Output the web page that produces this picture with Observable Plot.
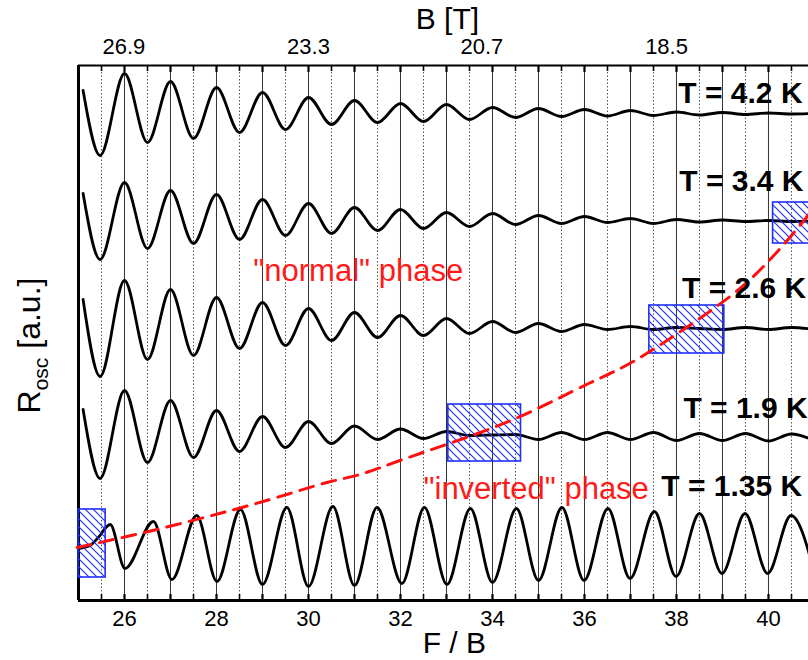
<!DOCTYPE html>
<html><head><meta charset="utf-8">
<script src="https://cdn.jsdelivr.net/npm/d3@7"></script>
<script src="https://cdn.jsdelivr.net/npm/@observablehq/plot@0.6"></script>
<style>body{margin:0;background:#fff;} svg{display:block}</style>
</head><body><div id="chart"></div>
<script>
// ---- data (x = F/B, R = oscillating resistance, arbitrary units) ----
const F = 699; // frequency used for top B axis
const xTickLabels = [26, 28, 30, 32, 34, 36, 38, 40];
const bTickLabels = [26.9, 23.3, 20.7, 18.5];

const x_T42 = [25.1,25.47,26,26.5,27,27.5,28,28.5,29,29.5,30,30.5,31,31.5,32,32.5,33,33.5,34,34.5,35,35.5,36,36.5,37,37.5,38,38.5,39,39.5,40,40.5,41];
const r_T42 = [510,445,527,458,519,462,513,468,508,471,503,476,500,478,497,479,496,481,493,483,492,484,491,484.5,490,485,488.5,485.5,488,486,487.5,486.5,487];

const x_T34 = [25.1,25.47,26,26.5,27,27.5,28,28.5,29,29.5,30,30.5,31,31.5,32,32.5,33,33.5,34,34.5,35,35.5,36,36.5,37,37.5,38,38.5,39,39.5,40,40.5,41];
const r_T34 = [407,341,418,352,410,357,406,361,401,365,397,367,393,370,391,372,388,374,387,376,385,377,384,378,382,377,381,378.5,380.5,379,380,379,379.5];

const x_T26 = [25.1,25.47,26,26.5,27,27.5,28,28.5,29,29.5,30,30.5,31,31.5,32,32.5,33,33.5,34,34.5,35,35.5,36,36.5,37,37.5,38,38.5,39,39.5,40,40.5,41];
const r_T26 = [301,224,320,241,311,245,303,252,298,255,292,260,288,263,285,265,282,267,279,268,277,269,276,271,274,271,273,272,271,273,271,273,271];

const x_T19 = [25.1,25.47,26,26.5,27,27.5,28,28.5,29,29.5,30,30.5,31,31.5,32,32.5,33,33.5,34,34.5,35,35.5,36,36.5,37,37.5,38,38.5,39,39.5,40,40.5,41];
const r_T19 = [191,122,210,138,200,143,190,149,184,153,179,157,174.5,161,171.5,162,169,165,165.5,166,161,168,161,168,161,168,160,167,160,167,159.5,166.5,160];

const x_T135 = [25,25.25,25.43,25.69,26.01,26.63,27.03,27.57,28.01,28.52,29,29.53,30,30.53,31,31.49,32.03,32.52,33.01,33.52,34,34.52,35,35.51,35.99,36.51,36.99,37.52,37.99,38.5,38.99,39.49,39.98,40.49,41];
const r_T135 = [52,55,63,76,32,79,21,85,19,91,16,93,14,94,15,93,17,93,16,92,18,92,20,93,20,92,22,89,24,87,27,87,27,85,28];

const tempLabels = ["T = 4.2 K", "T = 3.4 K", "T = 2.6 K", "T = 1.9 K", "T = 1.35 K"];

// phase boundary (red dashed) and transition regions (hatched boxes)
const x_boundary = [24.97,26.05,27.14,28.23,29.31,30.4,31.12,31.99,33.12,34.6,36.09,37.21,38.84,39.89,40.86,41.3];
const r_boundary = [53,64,76,89,103,118,126,140,158,184,217,243,293,334,385,415];

const box_x1 = [25.0, 33.04, 37.41, 40.1];
const box_x2 = [25.59, 34.62, 39.04, 41.8];
const box_r1 = [23, 139, 247, 357];
const box_r2 = [91, 196, 295, 398];

// ---- annotation placement ----
const tempLabelX = [38.04, 38.06, 38.12, 38.15, 37.67];
const tempLabelR = [507.6, 419.6, 312.6, 192.6, 114.6];
const phaseText = ['"normal" phase', '"inverted" phase'];
const phaseX = [28.8, 32.5];
const phaseR = [329.6, 111.6];

// ---- tables ----
const traces = [
  {T: "4.2", xs: x_T42, rs: r_T42},
  {T: "3.4", xs: x_T34, rs: r_T34},
  {T: "2.6", xs: x_T26, rs: r_T26},
  {T: "1.9", xs: x_T19, rs: r_T19},
  {T: "1.35", xs: x_T135, rs: r_T135}
];
const rows = traces.flatMap(t => t.xs.map((x, i) => ({T: t.T, x, r: t.rs[i]})));
const boundary = x_boundary.map((x, i) => ({x, r: r_boundary[i]}));
const boxes = box_x1.map((x1, i) => ({x1, x2: box_x2[i], r1: box_r1[i], r2: box_r2[i]}));
const tLabels = tempLabels.map((text, i) => ({text, x: tempLabelX[i], r: tempLabelR[i]}));
const pLabels = phaseText.map((text, i) => ({text, x: phaseX[i], r: phaseR[i]}));

const intTicks = d3.range(26, 41.5, 1);
const halfTicks = d3.range(25.5, 41, 1);

const TOP = 535;
const svg = Plot.plot({
  width: 808, height: 660,
  marginLeft: 78, marginRight: 0, marginTop: 65, marginBottom: 60,
  style: {fontFamily: "'Liberation Sans', Arial, sans-serif", background: "white", color: "black"},
  x: {domain: [25, 40.87]},
  y: {domain: [0, TOP], axis: null},
  marks: [
    Plot.ruleX(halfTicks, {stroke: "#555", strokeWidth: 1, strokeDasharray: "1.5,2"}),
    Plot.ruleX(intTicks, {stroke: "#333", strokeWidth: 1}),
    // frame ticks (inward)
    Plot.ruleX(intTicks, {y1: TOP, y2: TOP - 7, stroke: "black", strokeWidth: 2.2}),
    Plot.ruleX(halfTicks, {y1: TOP, y2: TOP - 6, stroke: "black", strokeWidth: 1.6}),
    Plot.ruleX(intTicks, {y1: 0, y2: 6, stroke: "black", strokeWidth: 2.2}),
    Plot.ruleX(halfTicks, {y1: 0, y2: 6, stroke: "black", strokeWidth: 1.6}),
    Plot.ruleY([TOP], {stroke: "black", strokeWidth: 2}),
    Plot.ruleY([0], {stroke: "black", strokeWidth: 3}),
    Plot.ruleX([25], {stroke: "black", strokeWidth: 3}),
    Plot.axisX({anchor: "bottom", ticks: xTickLabels, tickSize: 0, tickPadding: 10, fontSize: 22, label: null}),
    Plot.axisX({anchor: "top", ticks: bTickLabels.map(b => F / b), tickFormat: d => (F / d).toFixed(1), tickSize: 0, tickPadding: 12, fontSize: 22, label: null}),
    // traces
    Plot.line(rows, {x: "x", y: "r", z: "T", curve: "monotone-x", stroke: "black", strokeWidth: 2.8}),
    // transition regions
    Plot.rect(boxes, {x1: "x1", x2: "x2", y1: "r1", y2: "r2", fill: "url(#hatch)", stroke: "#1f2fff", strokeWidth: 1.6}),
    Plot.line(boundary, {x: "x", y: "r", curve: "natural", stroke: "#ff1010", strokeWidth: 3, strokeDasharray: "14,9"}),
    Plot.text(tLabels, {x: "x", y: "r", text: "text", textAnchor: "start", fontSize: 30, fontWeight: "bold", fill: "black"}),
    Plot.text(pLabels, {x: "x", y: "r", text: "text", textAnchor: "start", fontSize: 31, fill: "#ff1a1a"}),
    // axis titles
    Plot.text(["B [T]"], {x: 33.02, y: 581, text: d => d, fontSize: 30}),
    Plot.text(["F / B"], {x: 33.17, y: -43, text: d => d, fontSize: 30}),
    Plot.text(["R"], {x: 23.93, y: 255, text: d => d, fontSize: 32, rotate: -90, className: "ylab"})
  ]
});

// hatch pattern
const defs = d3.select(svg).insert("defs", ":first-child");
const pat = defs.append("pattern").attr("id", "hatch").attr("patternUnits", "userSpaceOnUse")
  .attr("width", 8).attr("height", 8);
pat.append("path").attr("d", "M0,0L8,8M-4,4L4,12M4,-4L12,4")
  .attr("stroke", "#2030ff").attr("stroke-width", 1.2).attr("fill", "none");

// y label with subscript
const yl = d3.select(svg).select(".ylab text");
yl.text("R");
yl.append("tspan").attr("font-size", 21).attr("dy", 8).text("osc");
yl.append("tspan").attr("dy", -8).text(" [a.u.]");

document.getElementById("chart").appendChild(svg);
</script></body></html>
